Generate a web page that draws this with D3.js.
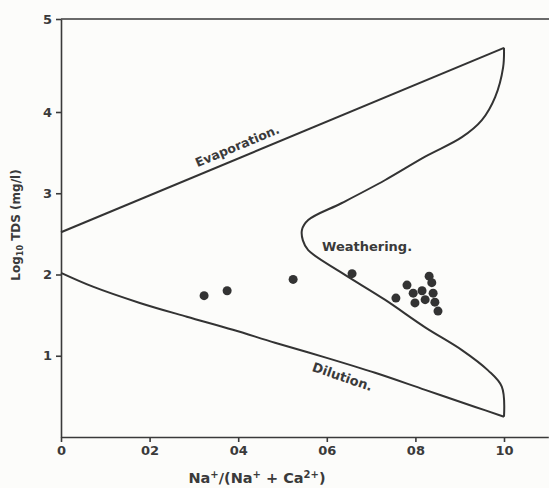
<!DOCTYPE html>
<html>
<head>
<meta charset="utf-8">
<script src="https://d3js.org/d3.v7.min.js"></script>
<style>
  body { margin: 0; background: #fcfcfa; }
  svg { display: block; }
  .axis path, .axis line { stroke: #3a3a3a; stroke-width: 1.6; }
  .axis text { font-family: "DejaVu Sans", sans-serif; font-weight: bold; font-size: 13px; fill: #3a3a3a; }
  .lbl { font-family: "DejaVu Sans", sans-serif; font-weight: bold; font-size: 13px; fill: #3a3a3a; }
</style>
</head>
<body>
<div id="chart"></div>
<script>
// tick labels as printed (decimal points lost in the scan)
const xTicks = [0, 0.2, 0.4, 0.6, 0.8, 1.0];
const xTickLabels = ['0', '02', '04', '06', '08', '10'];
const yTicks = [1, 2, 3, 4, 5];

// Gibbs boundary: [Na/(Na+Ca), log10 TDS]
const evaporation = [[0, 2.52], [1.0, 4.69]];
const weathering = [
  [1.0, 4.69], [0.998, 4.48], [0.98, 4.16], [0.95, 3.90], [0.905, 3.69],
  [0.822, 3.45], [0.731, 3.16], [0.634, 2.88], [0.558, 2.67], [0.544, 2.55],
  [0.546, 2.42], [0.558, 2.30], [0.634, 2.02], [0.731, 1.69], [0.822, 1.35],
  [0.905, 1.07], [0.964, 0.82], [0.995, 0.62], [1.0, 0.25]
];
const dilution = [
  [1.0, 0.25], [0.935, 0.37], [0.822, 0.58], [0.709, 0.79], [0.596, 0.98],
  [0.483, 1.16], [0.388, 1.32], [0.284, 1.48], [0.178, 1.65], [0.072, 1.85], [0, 2.02]
];

// samples
const sampleRatio = [0.323, 0.375, 0.524, 0.657, 0.831, 0.837, 0.781, 0.815, 0.795, 0.840, 0.756, 0.822, 0.799, 0.844, 0.851];
const sampleTDS   = [1.74, 1.80, 1.94, 2.01, 1.98, 1.90, 1.87, 1.80, 1.77, 1.77, 1.71, 1.69, 1.65, 1.66, 1.55];

const W = 549, H = 488;
const svg = d3.select('#chart').append('svg').attr('width', W).attr('height', H);

const x = d3.scaleLinear().domain([0, 1.1]).range([61, 548.3]);
// the printed scale is uneven: top decade is stretched
const y = d3.scaleLinear().domain([0, 4, 5]).range([437, 112, 19]);

// axes
svg.append('g').attr('class', 'axis')
  .attr('transform', `translate(0,${y(0)})`)
  .call(d3.axisBottom(x).tickValues(xTicks).tickSize(5).tickSizeOuter(0).tickPadding(4)
    .tickFormat((d, i) => xTickLabels[i]));

svg.append('g').attr('class', 'axis')
  .attr('transform', `translate(${x(0)},0)`)
  .call(d3.axisLeft(y).tickValues(yTicks).tickSize(5).tickSizeOuter(0).tickPadding(4)
    .tickFormat(d3.format('d')));

// top border
svg.append('line')
  .attr('x1', x(0)).attr('x2', W).attr('y1', y(5)).attr('y2', y(5))
  .attr('stroke', '#3a3a3a').attr('stroke-width', 1.6);

// axis titles
const xt = svg.append('text').attr('class', 'lbl')
  .attr('x', 257).attr('y', 483).attr('text-anchor', 'middle').style('font-size', '14.5px');
xt.append('tspan').text('Na');
xt.append('tspan').attr('dy', -5).style('font-size', '10px').text('+');
xt.append('tspan').attr('dy', 5).text('/(Na');
xt.append('tspan').attr('dy', -5).style('font-size', '10px').text('+');
xt.append('tspan').attr('dy', 5).text(' + Ca');
xt.append('tspan').attr('dy', -5).style('font-size', '10px').text('2+');
xt.append('tspan').attr('dy', 5).text(')');

const yt = svg.append('text').attr('class', 'lbl')
  .attr('transform', 'translate(20,225) rotate(-90)')
  .attr('text-anchor', 'middle').style('font-size', '12px');
yt.append('tspan').text('Log');
yt.append('tspan').attr('dy', 3).style('font-size', '8px').text('10');
yt.append('tspan').attr('dy', -3).text(' TDS (mg/l)');

// boundary curves
const line = d3.line().x(d => x(d[0])).y(d => y(d[1]));
const smooth = d3.line().x(d => x(d[0])).y(d => y(d[1])).curve(d3.curveCatmullRom.alpha(0.5));

svg.append('path').attr('d', line(evaporation))
  .attr('fill', 'none').attr('stroke', '#333').attr('stroke-width', 2);
svg.append('path').attr('d', smooth(weathering))
  .attr('fill', 'none').attr('stroke', '#333').attr('stroke-width', 2);
svg.append('path').attr('d', smooth(dilution))
  .attr('fill', 'none').attr('stroke', '#333').attr('stroke-width', 2);

// field labels
svg.append('text').attr('class', 'lbl')
  .attr('transform', 'translate(239,150) rotate(-22.6)')
  .attr('text-anchor', 'middle').style('font-size', '12.5px').text('Evaporation.');
svg.append('text').attr('class', 'lbl')
  .attr('x', 322).attr('y', 251).text('Weathering.');
svg.append('text').attr('class', 'lbl')
  .attr('transform', 'translate(341,381) rotate(19)')
  .attr('text-anchor', 'middle').text('Dilution.');

// sample points
svg.append('g').selectAll('circle')
  .data(sampleRatio.map((r, i) => [r, sampleTDS[i]]))
  .join('circle')
  .attr('cx', d => x(d[0])).attr('cy', d => y(d[1]))
  .attr('r', 4.5).attr('fill', '#333');
</script>
</body>
</html>
